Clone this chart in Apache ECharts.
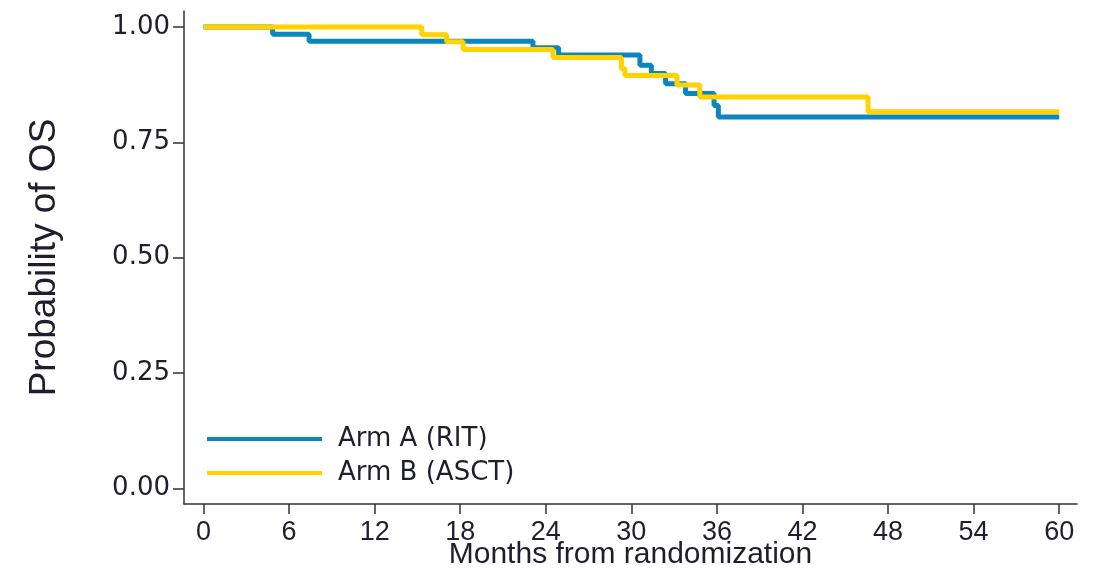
<!DOCTYPE html>
<html>
<head>
<meta charset="utf-8">
<title>Overall survival by arm</title>
<script src="https://cdn.jsdelivr.net/npm/echarts@6/dist/echarts.min.js"></script>
<style>
  html, body { margin: 0; padding: 0; background: #ffffff; }
  #chart { width: 1094px; height: 569px; }
</style>
</head>
<body>
<div id="chart"></div>
<script>
// Kaplan-Meier steps: [month of event, survival probability after it]
const armAMonths = [0, 4.85, 7.4, 23.1, 24.9, 30.6, 31.4, 32.4, 33.8, 35.8, 36.1, 60];
const armAProb   = [1.0, 0.984, 0.969, 0.955, 0.939, 0.917, 0.899, 0.877, 0.856, 0.830, 0.805, 0.805];

const armBMonths = [0, 15.3, 17.05, 18.2, 24.5, 29.3, 29.55, 33.2, 34.8, 46.6, 60];
const armBProb   = [1.0, 0.983, 0.968, 0.951, 0.934, 0.910, 0.895, 0.874, 0.848, 0.816, 0.816];

const seriesNames = ['Arm A (RIT)', 'Arm B (ASCT)'];
const monthTicks = [0, 6, 12, 18, 24, 30, 36, 42, 48, 54, 60];
const probTicks = [0, 0.25, 0.5, 0.75, 1.0];

const pairs = (xs, ys) => xs.map((x, i) => [x, ys[i]]);

const axisColor = '#333333';
const textColor = '#1e1e2e';
const sans = 'Liberation Sans, Arial, sans-serif';
const wide = 'DejaVu Sans, Liberation Sans, sans-serif';

const chart = echarts.init(document.getElementById('chart'), null, { renderer: 'canvas' });

chart.setOption({
  animation: false,
  backgroundColor: '#ffffff',
  grid: { left: 184, right: 17, top: 11, bottom: 65, containLabel: false, outerBoundsMode: 'none' },
  xAxis: {
    type: 'value',
    min: -1.37,
    max: 61.25,
    name: 'Months from randomization',
    nameLocation: 'middle',
    nameGap: 36,
    nameMoveOverlap: false,
    nameTextStyle: { fontFamily: sans, fontSize: 30, color: textColor },
    axisLine: { show: true, onZero: false, lineStyle: { color: axisColor, width: 1.5 } },
    axisTick: { show: true, length: 10, customValues: monthTicks, lineStyle: { color: axisColor, width: 1.5 } },
    axisLabel: { customValues: monthTicks, margin: 15, fontFamily: sans, fontSize: 27, color: textColor },
    splitLine: { show: false }
  },
  yAxis: {
    type: 'value',
    min: -0.0338,
    max: 1.0346,
    name: 'Probability of OS',
    nameLocation: 'middle',
    nameGap: 121,
    nameMoveOverlap: false,
    nameRotate: 90,
    nameTextStyle: { fontFamily: sans, fontSize: 37, color: textColor },
    axisLine: { show: true, onZero: false, lineStyle: { color: axisColor, width: 1.5 } },
    axisTick: { show: true, length: 11, customValues: probTicks, lineStyle: { color: axisColor, width: 1.5 } },
    axisLabel: {
      customValues: probTicks,
      margin: 14,
      fontFamily: wide,
      fontSize: 26,
      color: textColor,
      formatter: v => v.toFixed(2)
    },
    splitLine: { show: false }
  },
  legend: {
    orient: 'vertical',
    left: 202,
    top: 420,
    icon: 'rect',
    itemWidth: 115,
    itemHeight: 4,
    itemGap: 6,
    textStyle: { fontFamily: wide, fontSize: 26, color: textColor, lineHeight: 28, padding: [0, 0, 0, 11] },
    data: seriesNames
  },
  series: [
    {
      name: seriesNames[0],
      type: 'line',
      step: 'end',
      showSymbol: false,
      symbol: 'none',
      color: '#0c87bd',
      lineStyle: { width: 5, color: '#0c87bd' },
      data: pairs(armAMonths, armAProb),
      z: 2
    },
    {
      name: seriesNames[1],
      type: 'line',
      step: 'end',
      showSymbol: false,
      symbol: 'none',
      color: '#ffd200',
      lineStyle: { width: 5, color: '#ffd200' },
      data: pairs(armBMonths, armBProb),
      z: 3
    }
  ]
});
</script>
</body>
</html>
